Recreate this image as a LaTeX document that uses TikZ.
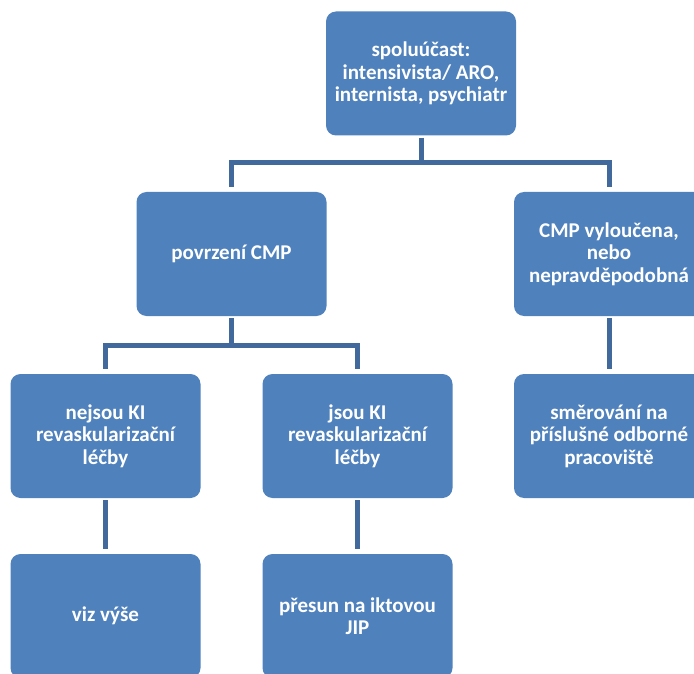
\documentclass[tikz,border=0pt]{standalone}
\usepackage{fontspec}
\setmainfont{Carlito}
\definecolor{boxblue}{HTML}{4F81BD}
\definecolor{lineblue}{HTML}{41699C}
\begin{document}
\begin{tikzpicture}[x=1pt,y=-1pt,
  box/.style={fill=boxblue, rounded corners=10pt, minimum width=190pt, minimum height=124pt,
    inner sep=0pt, align=center, text=white, font=\fontsize{21}{22.5}\selectfont\bfseries},
  conn/.style={draw=lineblue, line width=5pt, shorten <=2pt, shorten >=5pt}]
\useasboundingbox (0,0) rectangle (694,674);
\clip (0,0) rectangle (694,674);
\node[box] (top) at (421,73.5) {spoluúčast:\\intensivista/ ARO,\\internista, psychiatr};
\node[box] (pov) at (231.5,254) {povrzení CMP};
\node[box] (vyl) at (609,254) {CMP vyloučena,\\nebo\\nepravděpodobná};
\node[box] (nej) at (105.5,436) {nejsou KI\\revaskularizační\\léčby};
\node[box] (jsou) at (357.5,436) {jsou KI\\revaskularizační\\léčby};
\node[box] (smer) at (609,436) {směrování na\\příslušné odborné\\pracoviště};
\node[box] (viz) at (105.5,616) {viz výše};
\node[box] (pres) at (357.5,616) {přesun na iktovou\\JIP};
\coordinate (bus1) at (0,163);
\coordinate (bus2) at (0,345);
\draw[conn] (top.south) -- (top.south |- bus1) -| (pov.north);
\draw[conn, shorten <=0pt] (top.south |- bus1) -| (vyl.north);
\draw[conn] (pov.south) -- (pov.south |- bus2) -| (nej.north);
\draw[conn, shorten <=0pt] (pov.south |- bus2) -| (jsou.north);
\draw[conn] (vyl.south) -- (smer.north);
\draw[conn] (nej.south) -- (viz.north);
\draw[conn] (jsou.south) -- (pres.north);
\end{tikzpicture}
\end{document}
